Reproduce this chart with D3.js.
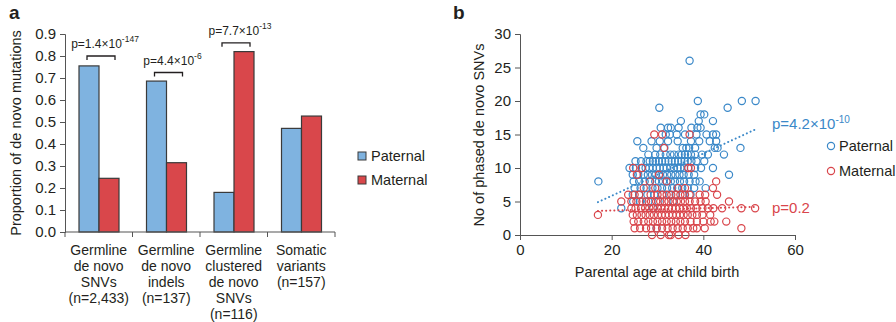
<!DOCTYPE html>
<html>
<head>
<meta charset="utf-8">
<script src="https://cdn.jsdelivr.net/npm/d3@7"></script>
<style>
  body { margin: 0; background: #fff; }
  svg { font-family: "Liberation Sans", Arial, sans-serif; }
</style>
</head>
<body>
<div id="chart"></div>
<script>
// panel a data
var categories = [
  ["Germline", "de novo", "SNVs", "(n=2,433)"],
  ["Germline", "de novo", "indels", "(n=137)"],
  ["Germline", "clustered", "de novo", "SNVs", "(n=116)"],
  ["Somatic", "variants", "(n=157)"]
];
var seriesNames = ["Paternal", "Maternal"];
var paternalShare = [0.755, 0.686, 0.18, 0.471];
var maternalShare = [0.244, 0.315, 0.82, 0.527];
var yTicksA = [0, 0.1, 0.2, 0.3, 0.4, 0.5, 0.6, 0.7, 0.8, 0.9];
// p-values: [category index, mantissa, exponent, bracket level]
var pValuesA = [[0, "1.4", "-147", 0.80], [1, "4.4", "-6", 0.725], [2, "7.7", "-13", 0.86]];

// panel b data: [parental age, phased de novo SNVs]
var paternalPoints = [
  [37.0, 26],
  [38.8, 20], [48.4, 20], [51.4, 20],
  [30.4, 19], [45.3, 19],
  [39.4, 18], [40.2, 18],
  [35.1, 17], [39.0, 17], [42.1, 17],
  [30.7, 16], [32.3, 16], [32.9, 16], [34.6, 16], [37.4, 16], [38.7, 16], [39.4, 16],
  [31.8, 15], [32.7, 15], [34.2, 15], [36.0, 15], [38.5, 15], [40.7, 15], [42.1, 15], [42.8, 15],
  [25.6, 14], [28.7, 14], [30.5, 14], [32.3, 14], [34.4, 14], [37.3, 14], [39.1, 14], [41.4, 14], [42.8, 14],
  [26.9, 13], [29.8, 13], [31.5, 13], [35.5, 13], [36.3, 13], [36.9, 13], [38.2, 13], [42.5, 13], [43.1, 13], [48.1, 13],
  [28.0, 12], [29.5, 12], [30.6, 12], [31.8, 12], [32.8, 12], [33.6, 12], [34.6, 12], [35.3, 12], [36.0, 12],
  [36.6, 12], [37.3, 12], [38.2, 12], [39.7, 12], [41.0, 12], [44.5, 12],
  [25.2, 11], [26.4, 11], [27.6, 11], [28.3, 11], [29.0, 11], [29.6, 11], [30.3, 11], [31.0, 11], [31.7, 11],
  [32.4, 11], [33.1, 11], [33.8, 11], [34.5, 11], [35.2, 11], [35.9, 11], [36.6, 11], [37.4, 11], [38.5, 11], [40.2, 11],
  [23.9, 10], [25.3, 10], [26.5, 10], [27.4, 10], [28.2, 10], [29.0, 10], [29.8, 10], [30.5, 10], [31.3, 10],
  [32.0, 10], [32.8, 10], [33.6, 10], [34.4, 10], [35.0, 10], [35.8, 10], [36.7, 10], [38.2, 10], [39.5, 10], [42.1, 10],
  [24.6, 9], [25.8, 9], [27.0, 9], [27.9, 9], [28.8, 9], [29.6, 9], [30.4, 9], [31.2, 9], [32.1, 9], [33.0, 9],
  [33.9, 9], [34.8, 9], [35.7, 9], [36.8, 9], [38.0, 9], [45.6, 9],
  [17.1, 8], [24.8, 8], [26.0, 8], [27.2, 8], [28.4, 8], [29.5, 8], [30.3, 8], [31.2, 8], [32.0, 8], [32.9, 8],
  [33.8, 8], [34.9, 8], [35.8, 8], [37.0, 8], [38.3, 8], [39.2, 8],
  [25.0, 7], [26.3, 7], [27.6, 7], [28.9, 7], [30.0, 7], [31.0, 7], [32.1, 7], [33.2, 7], [34.3, 7], [35.4, 7],
  [36.6, 7], [38.0, 7], [40.5, 7],
  [24.6, 6], [26.0, 6], [27.8, 6], [29.3, 6], [31.0, 6], [32.6, 6], [34.0, 6], [35.5, 6], [37.2, 6],
  [24.7, 5], [26.2, 5], [28.0, 5], [30.2, 5], [33.5, 5],
  [22.1, 4], [29.0, 4],
  [29.8, 1]
];
var maternalPoints = [
  [29.3, 15], [31.0, 15], [37.0, 15],
  [31.4, 13],
  [24.7, 10], [26.6, 10], [36.7, 10], [37.3, 10],
  [25.5, 9], [30.3, 9],
  [28.3, 8], [32.0, 8], [42.8, 8],
  [27.0, 7], [29.5, 7], [34.5, 7], [36.0, 7], [42.1, 7],
  [23.6, 6], [25.0, 6], [26.0, 6], [28.5, 6], [30.0, 6], [31.0, 6], [32.0, 6], [33.0, 6], [34.0, 6], [35.0, 6],
  [36.0, 6], [37.0, 6], [39.2, 6], [40.4, 6], [43.0, 6],
  [22.1, 5], [24.3, 5], [25.4, 5], [26.7, 5], [27.5, 5], [28.6, 5], [29.7, 5], [30.6, 5], [31.5, 5], [32.4, 5],
  [33.3, 5], [34.2, 5], [35.1, 5], [36.0, 5], [37.0, 5], [38.2, 5], [39.4, 5], [40.5, 5], [45.6, 5],
  [24.3, 4], [25.2, 4], [26.4, 4], [27.3, 4], [28.2, 4], [29.1, 4], [30.0, 4], [30.8, 4], [31.6, 4], [32.4, 4],
  [33.2, 4], [34.0, 4], [34.8, 4], [35.6, 4], [36.4, 4], [37.3, 4], [38.5, 4], [39.8, 4], [41.0, 4], [42.2, 4],
  [44.1, 4], [48.3, 4], [51.3, 4],
  [17.0, 3], [24.6, 3], [25.5, 3], [26.5, 3], [27.4, 3], [28.3, 3], [29.2, 3], [30.1, 3], [30.9, 3], [31.7, 3],
  [32.5, 3], [33.3, 3], [34.1, 3], [34.9, 3], [35.7, 3], [36.6, 3], [37.6, 3], [38.6, 3], [39.8, 3], [41.5, 3],
  [24.8, 2], [25.8, 2], [27.0, 2], [28.0, 2], [29.0, 2], [30.0, 2], [31.0, 2], [32.0, 2], [33.0, 2], [34.0, 2],
  [35.0, 2], [36.0, 2], [37.2, 2], [38.6, 2], [40.0, 2], [41.6, 2], [42.4, 2], [45.0, 2],
  [25.0, 1], [26.2, 1], [27.5, 1], [28.6, 1], [29.8, 1], [31.0, 1], [32.2, 1], [33.3, 1], [34.4, 1], [35.5, 1],
  [36.6, 1], [37.8, 1], [38.6, 1], [40.3, 1], [48.3, 1],
  [28.8, 0], [30.7, 0], [32.5, 0], [32.9, 0], [34.6, 0], [36.1, 0]
];
// trend line end points
var paternalTrend = [[17, 4.9], [51.5, 15.8]];
var maternalTrend = [[17, 3.6], [51.5, 4.2]];
var pValuesB = [["Paternal", "4.2", "-10"], ["Maternal", "0.2", null]];
var xTicksB = [0, 20, 40, 60];
var yTicksB = [0, 5, 10, 15, 20, 25, 30];

var blueFill = "#7fb3e0", redFill = "#d9474b";
var blueDot = "#3a88c8", redDot = "#d9454b";
var ink = "#231f20";

var svg = d3.select("#chart").append("svg")
  .attr("width", 896)
  .attr("height", 322);

// ---------- panel a ----------
svg.append("text")
  .attr("x", 9).attr("y", 19)
  .attr("font-size", 19).attr("font-weight", "bold")
  .attr("fill", ink)
  .text("a");

var yA = d3.scaleLinear().domain([0, 0.9]).range([232, 34]);
var xA = d3.scaleBand().domain(d3.range(categories.length)).range([65, 335]);
var xInner = d3.scaleBand().domain(seriesNames).range([14, 54]);

var axisA = svg.append("g").attr("transform", "translate(65,0)")
  .call(d3.axisLeft(yA).tickValues(yTicksA).tickFormat(d3.format(".1f")).tickSizeOuter(0).tickSize(5).tickPadding(4));
axisA.select(".domain").attr("stroke", "#555");
axisA.selectAll(".tick line").attr("stroke", "#555");
axisA.selectAll("text").attr("font-size", 15).attr("font-family", "Liberation Sans, Arial, sans-serif").attr("fill", ink);

var rowsA = categories.map(function(c, i) {
  return { i: i, values: [paternalShare[i], maternalShare[i]] };
});

var groups = svg.append("g").selectAll("g")
  .data(rowsA)
  .enter().append("g")
  .attr("transform", d => `translate(${xA(d.i)},0)`);

groups.selectAll("rect")
  .data(d => d.values.map((v, k) => ({ name: seriesNames[k], v: v })))
  .enter().append("rect")
  .attr("x", d => xInner(d.name))
  .attr("width", xInner.bandwidth())
  .attr("y", d => yA(d.v))
  .attr("height", d => yA(0) - yA(d.v))
  .attr("fill", d => d.name === "Paternal" ? blueFill : redFill)
  .attr("stroke", "#3a3a3a")
  .attr("stroke-width", 1.2);

// x axis with ticks between categories
svg.append("line")
  .attr("x1", 65).attr("x2", 335)
  .attr("y1", yA(0)).attr("y2", yA(0))
  .attr("stroke", "#555").attr("stroke-width", 1.2);
svg.append("g").selectAll("line")
  .data(d3.range(categories.length + 1))
  .enter().append("line")
  .attr("x1", d => d < categories.length ? xA(d) : xA(d - 1) + xA.bandwidth())
  .attr("x2", d => d < categories.length ? xA(d) : xA(d - 1) + xA.bandwidth())
  .attr("y1", yA(0)).attr("y2", yA(0) + 5)
  .attr("stroke", "#555");

var catLabels = svg.append("g").selectAll("text")
  .data(categories)
  .enter().append("text")
  .attr("text-anchor", "middle")
  .attr("font-size", 14)
  .attr("fill", ink);
catLabels.each(function(lines, i) {
  var t = d3.select(this);
  lines.forEach(function(l, j) {
    t.append("tspan")
      .attr("x", xA(i) + xA.bandwidth() / 2)
      .attr("y", 255 + j * 15.9)
      .text(l);
  });
});

svg.append("text")
  .attr("transform", "translate(21,133) rotate(-90)")
  .attr("text-anchor", "middle")
  .attr("font-size", 14.5)
  .attr("fill", ink)
  .text("Proportion of de novo mutations");

// p-value brackets
pValuesA.forEach(function(p) {
  var x0 = xA(p[0]) + xInner("Paternal") + 8;
  var x1 = xA(p[0]) + xInner("Maternal") + xInner.bandwidth() - 4;
  var yb = yA(p[3]);
  svg.append("path")
    .attr("d", `M${x0},${yb + 4}V${yb}H${x1}V${yb + 4}`)
    .attr("fill", "none").attr("stroke", ink).attr("stroke-width", 1.3);
  var t = svg.append("text")
    .attr("x", (x0 + x1) / 2 + 4).attr("y", yb - 8)
    .attr("text-anchor", "middle")
    .attr("font-size", 12).attr("fill", ink);
  t.append("tspan").text("p=" + p[1] + "×10");
  t.append("tspan").attr("dy", -6).attr("font-size", 8.5).text(p[2]);
});

// legend a
var legA = svg.append("g").selectAll("g")
  .data(seriesNames)
  .enter().append("g")
  .attr("transform", (d, i) => `translate(358,${152 + i * 24})`);
legA.append("rect")
  .attr("width", 8).attr("height", 8)
  .attr("fill", d => d === "Paternal" ? blueFill : redFill)
  .attr("stroke", "#3a3a3a");
legA.append("text")
  .attr("x", 13).attr("y", 8.5)
  .attr("font-size", 14.5).attr("fill", ink)
  .text(d => d);

// ---------- panel b ----------
svg.append("text")
  .attr("x", 453).attr("y", 19)
  .attr("font-size", 19).attr("font-weight", "bold")
  .attr("fill", ink)
  .text("b");

var xB = d3.scaleLinear().domain([0, 60]).range([520, 795]);
var yB = d3.scaleLinear().domain([0, 30]).range([235, 34]);

var axisBx = svg.append("g").attr("transform", `translate(0,${yB(0)})`)
  .call(d3.axisBottom(xB).tickValues(xTicksB).tickSizeOuter(0).tickSize(5).tickPadding(4));
var axisBy = svg.append("g").attr("transform", `translate(${xB(0)},0)`)
  .call(d3.axisLeft(yB).tickValues(yTicksB).tickSizeOuter(0).tickSize(5).tickPadding(4));
[axisBx, axisBy].forEach(function(a) {
  a.select(".domain").attr("stroke", "#555");
  a.selectAll(".tick line").attr("stroke", "#555");
  a.selectAll("text").attr("font-size", 15).attr("font-family", "Liberation Sans, Arial, sans-serif").attr("fill", ink);
});

svg.append("text")
  .attr("x", 657).attr("y", 277)
  .attr("text-anchor", "middle")
  .attr("font-size", 14.5).attr("fill", ink)
  .text("Parental age at child birth");

svg.append("text")
  .attr("transform", "translate(484,135) rotate(-90)")
  .attr("text-anchor", "middle")
  .attr("font-size", 14.5).attr("fill", ink)
  .text("No of phased de novo SNVs");

var dots = svg.append("g");
dots.selectAll("circle.pat")
  .data(paternalPoints)
  .enter().append("circle")
  .attr("class", "pat")
  .attr("cx", d => xB(d[0]))
  .attr("cy", d => yB(d[1]))
  .attr("r", 3.6)
  .attr("fill", "none")
  .attr("stroke", blueDot)
  .attr("stroke-width", 1.2);
dots.selectAll("circle.mat")
  .data(maternalPoints)
  .enter().append("circle")
  .attr("class", "mat")
  .attr("cx", d => xB(d[0]))
  .attr("cy", d => yB(d[1]))
  .attr("r", 3.6)
  .attr("fill", "none")
  .attr("stroke", redDot)
  .attr("stroke-width", 1.2);

var trendLine = d3.line().x(d => xB(d[0])).y(d => yB(d[1]));
[[paternalTrend, blueDot], [maternalTrend, redDot]].forEach(function(t) {
  svg.append("path")
    .attr("d", trendLine(t[0]))
    .attr("fill", "none")
    .attr("stroke", t[1])
    .attr("stroke-width", 2)
    .attr("stroke-linecap", "round")
    .attr("stroke-dasharray", "0.1,4");
});

// p-values b
pValuesB.forEach(function(p, i) {
  var trend = i === 0 ? paternalTrend : maternalTrend;
  var t = svg.append("text")
    .attr("x", 772).attr("y", yB(trend[1][1]) + (i === 0 ? 0 : 6))
    .attr("font-size", 15)
    .attr("fill", i === 0 ? blueDot : redDot);
  if (p[2]) {
    t.append("tspan").text("p=" + p[1] + "×10");
    t.append("tspan").attr("dy", -6).attr("font-size", 10).text(p[2]);
  } else {
    t.text("p=" + p[1]);
  }
});

// legend b
var legB = svg.append("g").selectAll("g")
  .data(seriesNames)
  .enter().append("g")
  .attr("transform", (d, i) => `translate(831,${146 + i * 25})`);
legB.append("circle")
  .attr("r", 3.6)
  .attr("fill", "none")
  .attr("stroke", d => d === "Paternal" ? blueDot : redDot)
  .attr("stroke-width", 1.2);
legB.append("text")
  .attr("x", 8).attr("y", 5)
  .attr("font-size", 14.5).attr("fill", ink)
  .text(d => d);
</script>
</body>
</html>
